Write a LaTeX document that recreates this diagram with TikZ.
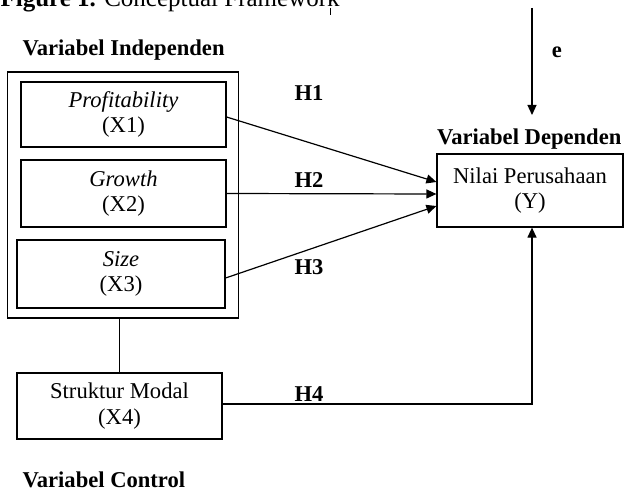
\documentclass[tikz,border=0pt]{standalone}
\usepackage{fontspec}
\setmainfont{Liberation Serif}
\usetikzlibrary{positioning,arrows.meta}

\begin{document}
\begin{tikzpicture}[x=1pt, y=-1pt, line width=1.2pt,
    font=\fontsize{22.6}{25.5}\selectfont,
    box/.style={draw, rectangle, align=center, inner sep=0pt},
    lbl/.style={font=\fontsize{22.6}{25.5}\selectfont\bfseries, inner sep=0pt},
    arr/.style={-{Triangle[length=10pt,width=9pt]}}]
    \useasboundingbox (0,0) rectangle (624,492);
    % judul (terpotong di atas)
    \node[anchor=base west, inner sep=0pt, font=\fontsize{25}{28}\selectfont] (judul) at (0,7) {\textbf{Figure 1.} Conceptual Framework};
    \coordinate (tanda1) at (330,8);
    \coordinate (tanda2) at (330,15);
    \draw[line width=1pt] (tanda1) -- (tanda2);

    % variabel independen
    \node[lbl, anchor=west] (lblindep) at (22,50) {Variabel Independen};
    \node[box, minimum width=231pt, minimum height=246pt] (indep) at (123,195) {};
    \node[box, minimum width=205pt, minimum height=65pt] (x1) at (123.5,114.5) {\textit{Profitability}\\(X1)};
    \node[box, minimum width=205pt, minimum height=67pt] (x2) at (123.5,193.5) {\textit{Growth}\\(X2)};
    \node[box, minimum width=208pt, minimum height=68pt] (x3) at (121,274) {\textit{Size}\\(X3)};

    % variabel control
    \node[box, minimum width=205pt, minimum height=66pt] (x4) at (119.5,406) {Struktur Modal\\(X4)};
    \node[lbl, anchor=west] (lblcontrol) at (22,480) {Variabel Control};

    % variabel dependen
    \node[box, minimum width=186pt, minimum height=73pt] (y) at (530,190.5) {Nilai Perusahaan\\(Y)};
    \node[lbl, above right=3pt and 0pt of y.north west] (lbldep) {Variabel Dependen};

    % hipotesis
    \node[lbl] (h1) at (309,93) {H1};
    \node[lbl] (h2) at (309,180) {H2};
    \node[lbl] (h3) at (309,267) {H3};
    \node[lbl] (h4) at (309,394.5) {H4};
    \node[lbl] (e) at (557,52) {e};

    \coordinate (etop) at (532,8);
    \coordinate (etip) at (532,115);
    \draw[arr] (etop) -- (etip);
    \draw[arr] ([yshift=-2.5pt]x1.east) -- ([yshift=8.5pt]y.west);
    \draw[arr] (x2.east) -- ([yshift=-3.5pt]y.west);
    \draw[arr] ([yshift=-4pt]x3.east) -- ([yshift=-15.5pt]y.west);
    \draw (indep.south -| x4.north) -- (x4.north);
    \draw[arr] ([yshift=2pt]x4.east) -| ([xshift=2pt]y.south);
\end{tikzpicture}
\end{document}
